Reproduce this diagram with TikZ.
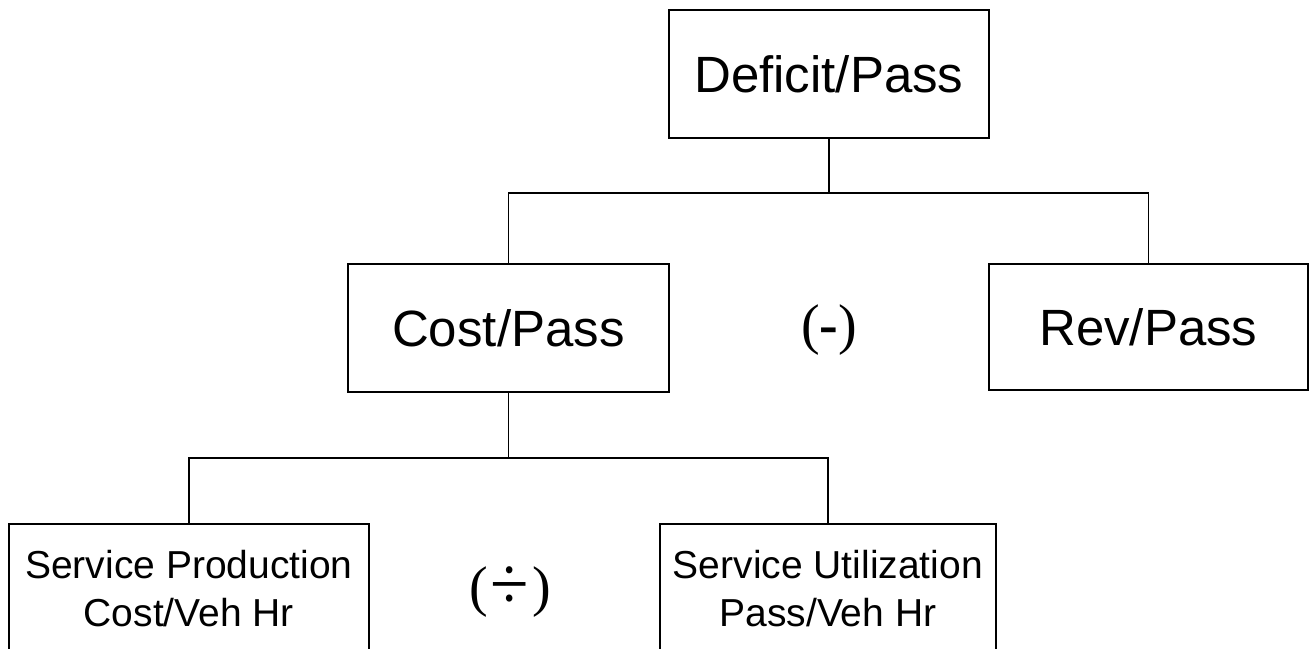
\documentclass[tikz,border=0pt]{standalone}
\usepackage{fontspec}
\setmainfont{Liberation Sans}
\newfontfamily\timesf{Liberation Serif}
\begin{document}
\begin{tikzpicture}[x=1pt,y=-1pt,
  box/.style={draw, line width=1.7pt, inner sep=0pt, align=center, anchor=north west},
  bigtext/.style={font=\fontsize{51}{60}\selectfont},
  smalltext/.style={font=\fontsize{39}{48}\selectfont},
  optext/.style={font=\timesf\fontsize{56}{60}\selectfont, inner sep=0pt},
  link/.style={line width=1.7pt}]
\useasboundingbox (0,0) rectangle (1309,648);
\clip (0,0) rectangle (1309,648);
\node[box, bigtext, minimum width=320pt, minimum height=128pt] (deficit) at (668,9) {Deficit/Pass};
\node[box, bigtext, minimum width=321pt, minimum height=128pt] (cost) at (347,263) {Cost/Pass};
\node[box, bigtext, minimum width=319pt, minimum height=126pt] (rev) at (988,263) {Rev/Pass};
\node[box, smalltext, minimum width=360pt, minimum height=130pt] (sp) at (8,523) {Service Production\\Cost/Veh Hr};
\node[box, smalltext, minimum width=336pt, minimum height=130pt] (su) at (659,523) {Service Utilization\\Pass/Veh Hr};
\node[optext] (minus) at (829,330) {(\textbf{-})};
\node[optext] (div) at (510,592) {(\kern3pt\raisebox{-4.5pt}{\scalebox{1.25}[1.35]{÷}}\kern3pt)};
\coordinate (h1) at (0,193);
\coordinate (h2) at (0,458);
\draw[link] (deficit.south) -- (deficit.south |- h1);
\draw[link] (cost.north) -- (cost.north |- h1) -- (rev.north |- h1) -- (rev.north);
\draw[link] (cost.south) -- (cost.south |- h2);
\draw[link] (sp.north) -- (sp.north |- h2) -- (su.north |- h2) -- (su.north);
\end{tikzpicture}
\end{document}
